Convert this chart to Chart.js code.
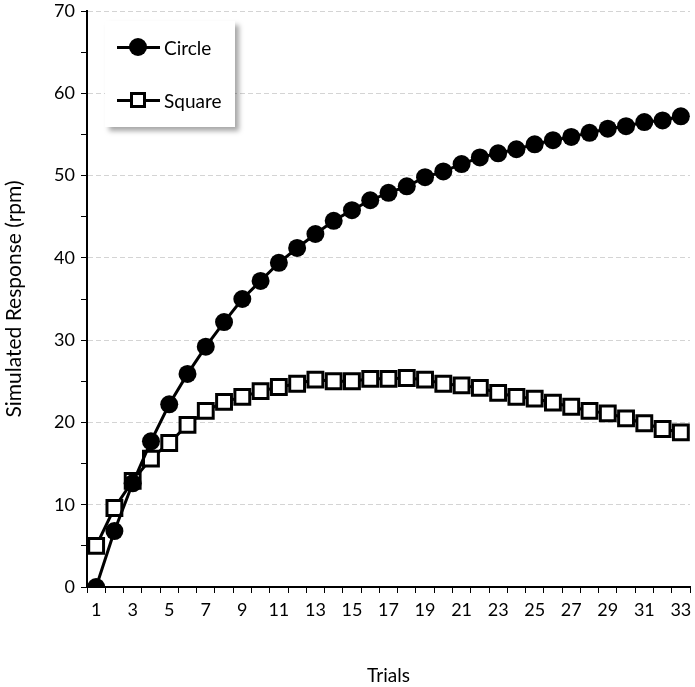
<!DOCTYPE html>
<html>
<head>
<meta charset="utf-8">
<script src="https://cdn.jsdelivr.net/npm/chart.js@4"></script>
<style>
  body { margin: 0; background: #fff; }
  #wrap { position: relative; width: 695px; height: 687px; }
  #legend {
    position: absolute; left: 105px; top: 21px; width: 130px; height: 106px;
    background: #fff; box-shadow: 4px 4px 5px rgba(0,0,0,0.35);
    font-family: Lato, sans-serif; font-size: 19px; color: #000;
  }
  .item { position: absolute; left: 12px; height: 20px; display: flex; align-items: center; }
  .icon { position: relative; width: 43px; height: 20px; margin-right: 4px; }
  .icon .ln { position: absolute; left: 0; right: 0; top: 8.5px; height: 3px; background: #000; }
  .icon .mk { position: absolute; left: 12px; top: 1px; width: 18px; height: 18px; box-sizing: border-box; }
  .mk.circle { background: #000; border-radius: 50%; }
  .mk.square { background: #fff; border: 3px solid #000; left: 13px; top: 2px; width: 16px; height: 16px; }
</style>
</head>
<body>
<div id="wrap">
  <canvas id="chart" width="695" height="687"></canvas>
  <div id="legend"></div>
</div>
<script>
const trials = ["1","2","3","4","5","6","7","8","9","10","11","12","13","14","15","16","17",
  "18","19","20","21","22","23","24","25","26","27","28","29","30","31","32","33"];

const circleValues = [0, 6.8, 12.6, 17.7, 22.2, 25.9, 29.2, 32.2, 35.0, 37.2, 39.4, 41.2, 42.9,
  44.5, 45.8, 47.0, 47.9, 48.7, 49.8, 50.5, 51.4, 52.2, 52.7, 53.2, 53.8, 54.3, 54.7, 55.2,
  55.7, 56.0, 56.5, 56.7, 57.2];

const squareValues = [5.0, 9.6, 12.9, 15.6, 17.5, 19.7, 21.4, 22.5, 23.1, 23.8, 24.3, 24.7, 25.2,
  25.0, 25.0, 25.3, 25.3, 25.4, 25.2, 24.7, 24.5, 24.2, 23.6, 23.1, 22.9, 22.4, 21.9, 21.4,
  21.1, 20.5, 19.9, 19.2, 18.8];

const seriesNames = ["Circle", "Square"];

const tickFont = { family: "Lato, sans-serif", size: 18 };
const titleFont = { family: "Lato, sans-serif", size: 19 };

const chart = new Chart(document.getElementById("chart"), {
  type: "line",
  data: {
    labels: trials,
    datasets: [
      {
        label: seriesNames[0],
        data: circleValues,
        borderColor: "#000",
        borderWidth: 3,
        pointStyle: "circle",
        pointRadius: 9,
        pointBackgroundColor: "#000",
        pointBorderWidth: 0,
        tension: 0,
      },
      {
        label: seriesNames[1],
        data: squareValues,
        borderColor: "#000",
        borderWidth: 3,
        pointStyle: "rect",
        pointRadius: 10.5,
        pointBackgroundColor: "#fff",
        pointBorderColor: "#000",
        pointBorderWidth: 3,
        tension: 0,
      },
    ],
  },
  options: {
    responsive: false,
    animation: false,
    layout: { autoPadding: false, padding: { top: 11, right: 5, bottom: 0, left: 0 } },
    plugins: { legend: { display: false }, tooltip: { enabled: false } },
    scales: {
      x: {
        offset: true,
        afterFit: (scale) => {
          scale.height = 100;
          scale.paddingLeft = 0;
          scale.paddingRight = 0;
        },
        grid: { offset: true, drawOnChartArea: false, tickLength: 6, tickColor: "#000", tickWidth: 1 },
        border: { color: "#000", width: 2 },
        ticks: {
          autoSkip: false,
          maxRotation: 0,
          padding: 6,
          color: "#000",
          font: tickFont,
          callback: (val, i) => (i % 2 === 0 ? trials[i] : ""),
        },
        title: { display: true, text: "Trials", color: "#000", font: titleFont, padding: { top: 0, bottom: 0 } },
      },
      y: {
        min: 0,
        max: 70,
        afterFit: (scale) => {
          scale.width = 87;
          scale.paddingTop = 0;
          scale.paddingBottom = 0;
        },
        grid: {
          color: (ctx) => (ctx.tick && ctx.tick.value % 10 === 0 && ctx.tick.value !== 0 ? "#d4d4d4" : "transparent"),
          lineWidth: 1,
          tickLength: 6,
          tickColor: "#000",
          tickWidth: 1,
        },
        border: { color: "#000", width: 2, dash: [5, 3] },
        ticks: {
          stepSize: 5,
          padding: 6,
          color: "#000",
          font: tickFont,
          callback: (v) => (v % 10 === 0 ? v : ""),
        },
        title: {
          display: true,
          text: "Simulated Response (rpm)",
          color: "#000",
          font: { family: "Lato, sans-serif", size: 21 },
          padding: { top: 2, bottom: 0 },
        },
      },
    },
  },
});

// legend box drawn as html, filled from the chart datasets
const legendEl = document.getElementById("legend");
chart.data.datasets.forEach((ds, i) => {
  const item = document.createElement("div");
  item.className = "item";
  item.style.top = (16 + i * 53) + "px";
  const shape = ds.pointStyle === "rect" ? "square" : "circle";
  item.innerHTML = '<div class="icon"><div class="ln"></div><div class="mk ' + shape + '"></div></div>' +
    "<span>" + ds.label + "</span>";
  legendEl.appendChild(item);
});
</script>
</body>
</html>
